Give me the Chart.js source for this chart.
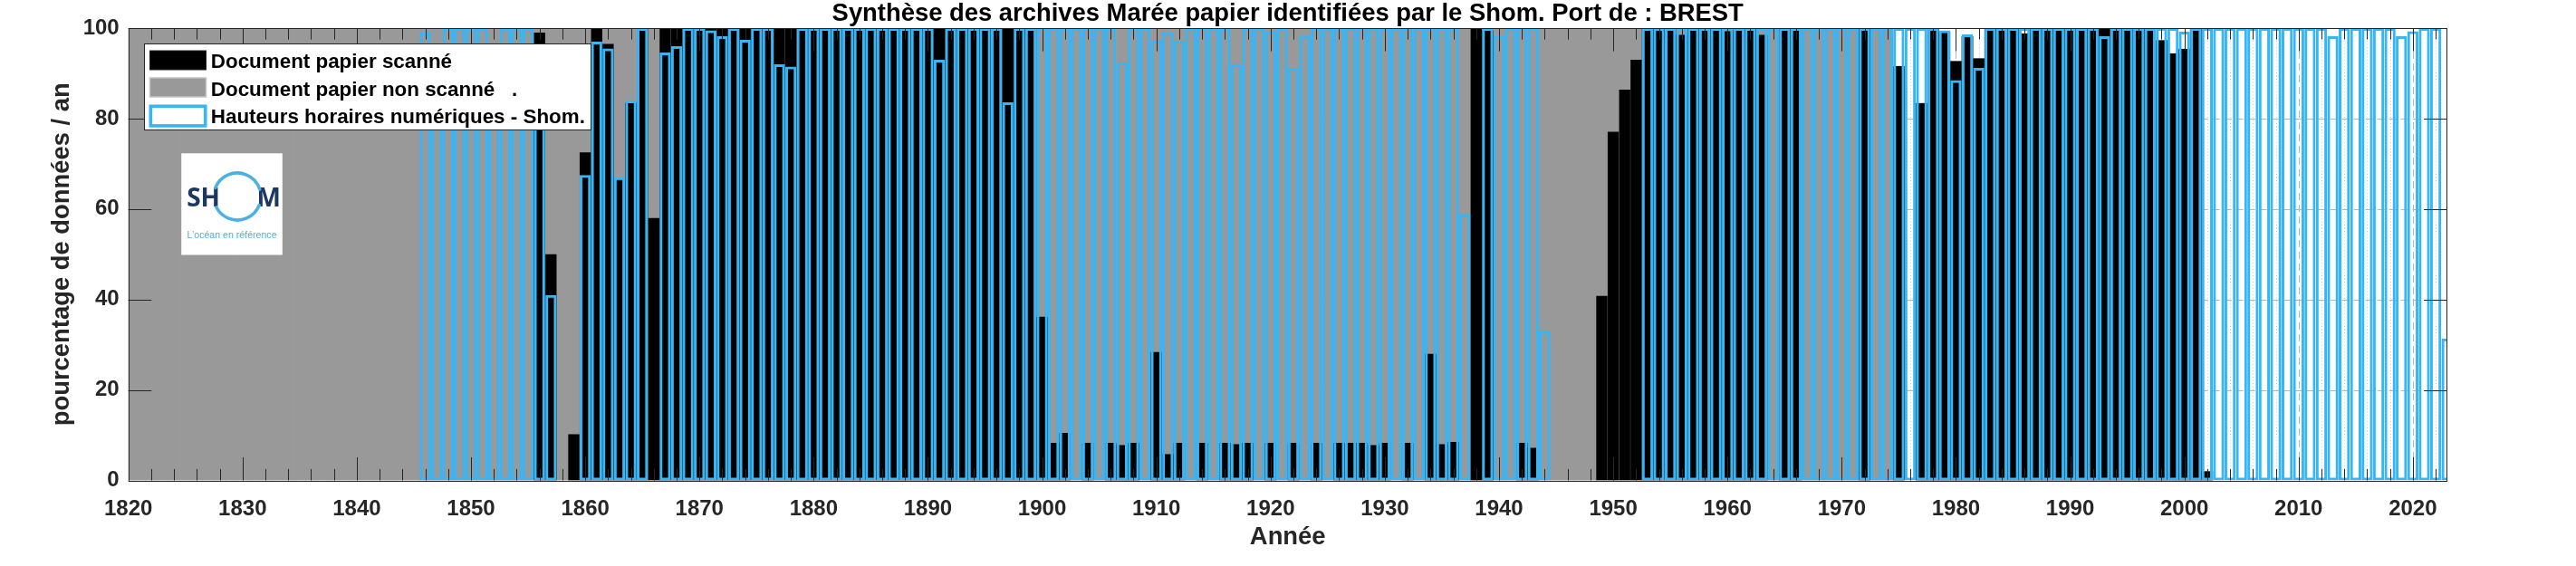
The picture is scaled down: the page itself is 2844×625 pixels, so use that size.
<!DOCTYPE html>
<html lang="fr">
<head>
<meta charset="utf-8">
<title>Synthèse des archives Marée papier – BREST</title>
<script src="https://cdn.jsdelivr.net/npm/chart.js@4.4.1/dist/chart.umd.min.js"></script>
<style>
  html, body { margin: 0; padding: 0; background: #fff; }
  #wrap { width: 2844px; height: 625px; }
</style>
</head>
<body>
<div id="wrap"><canvas id="chart" width="2844" height="625"></canvas></div>
<script>
// Années 1820 -> 2023, une valeur par an (null = pas de barre)
const FIRST_YEAR = 1820;
const X_MIN = 1820;
const X_MAX = 2023;
const xTickLabels = [1820, 1830, 1840, 1850, 1860, 1870, 1880, 1890, 1900, 1910, 1920,
  1930, 1940, 1950, 1960, 1970, 1980, 1990, 2000, 2010, 2020];
const yTickLabels = [0, 20, 40, 60, 80, 100];

// papier identifié (gris, dessiné derrière)
const papierTotal = [
  100, 100, 100, 100, 100, 100, 100, 100, 100, 100, // 1820
  100, 100, 100, 100, 100, 100, 100, 100, 100, 100, // 1830
  100, 100, 100, 100, 100, 100, 100, 100, 100, 100, // 1840
  100, 100, 100, 100, 100, 100, 100, 100, 100, 100, // 1850
  100, 100, 100, 100, 100, 100, 100, 100, 100, 100, // 1860
  100, 100, 100, 100, 100, 100, 100, 100, 100, 100, // 1870
  100, 100, 100, 100, 100, 100, 100, 100, 100, 100, // 1880
  100, 100, 100, 100, 100, 100, 100, 100, 100, 100, // 1890
  100, 100, 100, 100, 100, 100, 100, 100, 100, 100, // 1900
  100, 100, 100, 100, 100, 100, 100, 100, 100, 100, // 1910
  100, 100, 100, 100, 100, 100, 100, 100, 100, 100, // 1920
  100, 100, 100, 100, 100, 100, 100, 100, 100, 100, // 1930
  100, 100, 100, 100, 100, 100, 100, 100, 100, 100, // 1940
  100, 100, 100, 100, 100, 100, 100, 100, 100, 100, // 1950
  100, 100, 100, 100, 100, 100, 100, 100, 100, 100, // 1960
  100, 100, 100, 100, 100, 91.6, null, 83.4, 100, 99.1, // 1970
  92.7, 98.2, 93.3, 100, 100, 100, 98.8, 100, 100, 100, // 1980
  100, 100, 100, 100, 100, 100, 100, 100, 97.3, 94.4, // 1990
  95.4, 100, 2, // 2000
];

// papier scanné (noir)
const scanne = [
  null, null, null, null, null, null, null, null, null, null, // 1820
  null, null, null, null, null, null, null, null, null, null, // 1830
  null, null, null, null, null, null, null, null, null, null, // 1840
  null, null, null, null, null, null, 99, 50, null, 10.2, // 1850
  72.5, 100, 96.5, 66.5, 83.5, 100, 58, 100, 100, 100, // 1860
  100, 100, 100, 100, 100, 100, 100, 100, 100, 100, // 1870
  100, 100, 100, 100, 100, 100, 100, 100, 100, 100, // 1880
  100, 100, 100, 100, 100, 100, 100, 100, 100, 100, // 1890
  36.2, 8.3, 10.5, null, 8.3, null, 8.3, 7.8, 8.3, null, // 1900
  28.4, 5.8, 8.3, null, 8.3, null, 8.3, 8.0, 8.3, null, // 1910
  8.3, null, 8.3, null, 8.3, null, 8.3, 8.3, 8.3, 7.8, // 1920
  8.3, null, 8.3, null, 28, 8, 8.5, null, 100, 99.5, // 1930
  null, null, 8.3, 7.2, null, null, null, null, null, 40.8, // 1940
  77.1, 86.4, 93, 100, 100, 100, 98.5, 100, 100, 100, // 1950
  99.3, 100, 100, 98.5, null, 100, 100, null, null, null, // 1960
  null, null, 100, null, null, 91.6, null, 83.4, 100, 99.1, // 1970
  92.7, 98.2, 93.3, 100, 100, 100, 98.8, 100, 100, 100, // 1980
  100, 100, 100, 100, 100, 100, 100, 100, 97.3, 94.4, // 1990
  95.4, 100, 2, // 2000
];

// hauteurs horaires numériques (contour bleu)
const numerique = [
  null, null, null, null, null, null, null, null, null, null, // 1820
  null, null, null, null, null, null, null, null, null, null, // 1830
  null, null, null, null, null, null, 99, 92, 100, 100, // 1840
  100, 100, 92, 100, 100, 100, 90, 41, null, null, // 1850
  67.5, 97, 95.5, 67, 84, 100, null, 94.6, 96, 100, // 1860
  100, 99.5, 98.2, 100, 97.4, 100, 100, 92, 91.5, 100, // 1870
  100, 100, 100, 100, 100, 100, 100, 100, 100, 100, // 1880
  100, 93, 100, 100, 100, 100, 100, 83.6, 100, 100, // 1890
  100, 100, 100, 100, 100, 100, 100, 92.4, 100, 100, // 1900
  97.2, 99.1, 97.2, 100, 100, 100, 100, 92, 100, 100, // 1910
  99.3, 100, 91.2, 98.3, 100, 100, 100, 100, 100, 100, // 1920
  100, 100, 100, 100, 100, 100, 100, 58.9, null, 100, // 1930
  98.3, 100, 100, 100, 33, null, null, null, null, null, // 1940
  null, null, null, 100, 100, 100, 100, 100, 100, 100, // 1950
  100, 100, 100, 100, 100, 100, 100, 100, 100, 100, // 1960
  100, 100, 100, 100, 100, 100, 100, 100, 100, 99.5, // 1970
  88.5, 98.6, 91.2, 100, 100, 100, 100, 100, 100, 100, // 1980
  100, 100, 100, 98.2, 100, 100, 100, 100, 100, 100, // 1990
  99.2, 100, 100, 100, 100, 100, 100, 100, 100, 100, // 2000
  100, 100, 100, 98.2, 100, 100, 100, 100, 100, 98.2, // 2010
  99.3, 100, 100, 31.4, // 2020
];

const FONT = '"Liberation Sans", Arial, Helvetica, sans-serif';
const AXIS = '#262626';
const GRAY = '#999999';
const BLUE = '#36b6f6';

const toPoints = (values) => values
  .map((v, i) => ({x: FIRST_YEAR + i, y: v}))
  .filter((p) => p.y != null);

// grille façon MATLAB : pointillés mineurs tous les 2 ans, tirets majeurs
const gridPlugin = {
  id: 'grille',
  beforeDatasetsDraw(chart) {
    const {ctx, chartArea: a, scales: {x, y}} = chart;
    ctx.save();
    ctx.lineWidth = 1;
    ctx.strokeStyle = '#c8c8c8';
    ctx.setLineDash([1, 2.5]);
    ctx.beginPath();
    for (let yr = X_MIN; yr <= X_MAX; yr += 2) {
      if (xTickLabels.includes(yr)) continue;
      const px = Math.round(x.getPixelForValue(yr)) + 0.5;
      ctx.moveTo(px, a.top); ctx.lineTo(px, a.bottom);
    }
    ctx.stroke();
    ctx.strokeStyle = '#b6b6b6';
    ctx.setLineDash([8, 5]);
    ctx.beginPath();
    xTickLabels.forEach((yr) => {
      const px = Math.round(x.getPixelForValue(yr)) + 0.5;
      ctx.moveTo(px, a.top); ctx.lineTo(px, a.bottom);
    });
    yTickLabels.slice(1, -1).forEach((v) => {
      const py = Math.round(y.getPixelForValue(v)) + 0.5;
      ctx.moveTo(a.left, py); ctx.lineTo(a.right, py);
    });
    ctx.stroke();
    ctx.restore();
  },
};

// cadre + graduations intérieures
const framePlugin = {
  id: 'cadre',
  afterDatasetsDraw(chart) {
    const {ctx, chartArea: a, scales: {x, y}} = chart;
    ctx.save();
    ctx.strokeStyle = AXIS;
    ctx.lineWidth = 1;
    ctx.beginPath();
    for (let yr = X_MIN; yr <= X_MAX; yr += 2) {
      const px = Math.round(x.getPixelForValue(yr)) + 0.5;
      const len = xTickLabels.includes(yr) ? 25.6 : 12.6;
      ctx.moveTo(px, a.bottom); ctx.lineTo(px, a.bottom - len);
      ctx.moveTo(px, a.top); ctx.lineTo(px, a.top + len);
    }
    yTickLabels.forEach((v) => {
      const py = Math.round(y.getPixelForValue(v)) + 0.5;
      ctx.moveTo(a.left, py); ctx.lineTo(a.left + 25.6, py);
      ctx.moveTo(a.right, py); ctx.lineTo(a.right - 25.6, py);
    });
    ctx.stroke();
    ctx.strokeRect(Math.round(a.left) + 0.5, Math.round(a.top) + 0.5,
      Math.round(a.right - a.left) - 1, Math.round(a.bottom - a.top));
    ctx.restore();
  },
};

// légende dans le cadre + logo
const overlayPlugin = {
  id: 'legendeLogo',
  afterDraw(chart) {
    const {ctx} = chart;
    const ds = chart.data.datasets;
    ctx.save();
    ctx.fillStyle = '#fff';
    ctx.fillRect(159.5, 48.5, 493, 95);
    ctx.strokeStyle = AXIS;
    ctx.lineWidth = 1;
    ctx.strokeRect(159.5, 48.5, 493, 95);

    const baselines = [75.3, 105.7, 136.0];
    // patchs
    ctx.fillStyle = '#000';
    ctx.fillRect(165.5, 56, 62, 21);
    ctx.strokeStyle = AXIS;
    ctx.strokeRect(165.5, 56, 62, 21);
    ctx.fillStyle = GRAY;
    ctx.fillRect(165.5, 86, 62, 21);
    ctx.strokeStyle = '#c4c4c4';
    ctx.lineWidth = 1.5;
    ctx.strokeRect(165.5, 86, 62, 21);
    ctx.strokeStyle = BLUE;
    ctx.lineWidth = 3.6;
    ctx.strokeRect(166.3, 117.3, 60.4, 21.6);

    ctx.fillStyle = '#000';
    ctx.font = `bold 22.4px ${FONT}`;
    ctx.textBaseline = 'alphabetic';
    ctx.textAlign = 'left';
    ds.forEach((d, i) => ctx.fillText(d.label, 232.8, baselines[i]));

    // logo SHOM
    ctx.fillStyle = '#fff';
    ctx.fillRect(200.2, 169.3, 111.6, 112.2);
    ctx.fillStyle = '#1c3761';
    ctx.font = 'bold 28px "Open Sans", "Liberation Sans", sans-serif';
    ctx.fillText('SH', 206.2, 227.6);
    ctx.fillText('M', 283.5, 227.6);
    ctx.strokeStyle = '#4cb0e2';
    ctx.lineWidth = 3.6;
    ctx.lineCap = 'round';
    ctx.beginPath();
    ctx.arc(262, 217, 26, Math.PI * 1.12, Math.PI * 1.9);
    ctx.stroke();
    ctx.beginPath();
    ctx.arc(262, 217, 26, Math.PI * 0.12, Math.PI * 0.85);
    ctx.stroke();
    ctx.fillStyle = '#4cb0e2';
    ctx.font = `10.6px ${FONT}`;
    ctx.fillText('L\u2019océan en référence', 206.6, 263);
    ctx.restore();
  },
};

const common = {categoryPercentage: 1, grouped: false};

new Chart(document.getElementById('chart'), {
  type: 'bar',
  data: {
    datasets: [
      {
        ...common,
        label: 'Document papier scanné',
        data: toPoints(scanne),
        backgroundColor: '#000',
        barPercentage: 0.98,
        order: 1,
      },
      {
        ...common,
        label: 'Document papier non scanné   .',
        data: toPoints(papierTotal),
        backgroundColor: GRAY,
        barPercentage: 1,
        order: 2,
      },
      {
        ...common,
        label: 'Hauteurs horaires numériques - Shom.',
        data: toPoints(numerique),
        backgroundColor: 'rgba(0,0,0,0)',
        borderColor: BLUE,
        borderWidth: 3,
        borderSkipped: false,
        barPercentage: 0.98,
        order: 0,
      },
    ],
  },
  options: {
    responsive: false,
    animation: false,
    devicePixelRatio: 1,
    layout: {padding: {left: 0, right: 2844 - 2701.7, top: 0, bottom: 0}},
    plugins: {
      legend: {display: false},
      tooltip: {enabled: false},
      title: {
        display: true,
        fullSize: false,
        text: 'Synthèse des archives Marée papier identifiées par le Shom. Port de : BREST',
        color: '#000',
        font: {family: FONT, size: 27.4, weight: 'bold', lineHeight: 1},
        padding: {top: 2, bottom: 1.6},
      },
    },
    scales: {
      x: {
        type: 'linear',
        min: X_MIN,
        max: X_MAX,
        offset: false,
        grid: {display: false, drawTicks: false},
        border: {display: false},
        afterBuildTicks: (s) => { s.ticks = xTickLabels.map((v) => ({value: v})); },
        ticks: {
          autoSkip: false, maxRotation: 0, padding: 17.5, color: AXIS,
          font: {family: FONT, size: 24, weight: 'bold'},
          callback: (v) => String(v),
        },
        title: {
          display: true, text: 'Année', color: AXIS,
          font: {family: FONT, size: 27.4, weight: 'bold'},
          padding: {top: 0, bottom: 15},
        },
        afterFit: (s) => { s.height = 625 - 530.5; },
      },
      y: {
        min: 0,
        max: 100,
        grid: {display: false, drawTicks: false},
        border: {display: false},
        afterBuildTicks: (s) => { s.ticks = yTickLabels.map((v) => ({value: v})); },
        ticks: {
          padding: 10, color: AXIS, font: {family: FONT, size: 24, weight: 'bold'},
          callback: (v) => String(v),
        },
        title: {
          display: true, text: 'pourcentage de données / an', color: AXIS,
          font: {family: FONT, size: 27.4, weight: 'bold'},
          padding: {top: 52, bottom: 0},
        },
        afterFit: (s) => { s.width = 141.7; },
      },
    },
  },
  plugins: [gridPlugin, framePlugin, overlayPlugin],
});
</script>
</body>
</html>
